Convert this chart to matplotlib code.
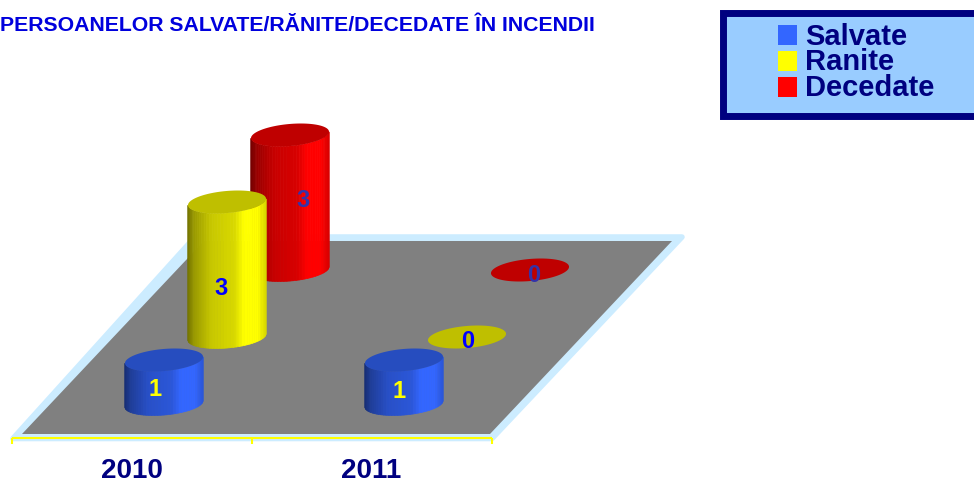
import numpy as np
import matplotlib
matplotlib.use("Agg")
import matplotlib.pyplot as plt
from matplotlib.patches import Polygon, Rectangle

title = "PERSOANELOR SALVATE/RĂNITE/DECEDATE ÎN INCENDII"
categories = ["2010", "2011"]
series_names = ["Salvate", "Ranite", "Decedate"]
salvate = [1, 1]
ranite = [3, 0]
decedate = [3, 0]
series_values = [salvate, ranite, decedate]
series_colors = [(0.2, 0.4, 1.0), (1.0, 1.0, 0.0), (1.0, 0.0, 0.0)]
label_colors = ["#FFFF00", "#0000FF", "#3333AA"]
label_dx = [[-9, -5], [-6, 1], [13, 4]]
label_dy = [[7, 9], [19, 5], [-2, 6]]

NAVY = "#000080"
X0, Y0 = 164.0, 404.0      # base centre of first cylinder
CAT_STEP = 240.0           # pixels per category along the front edge
SER_DX, SER_DY = 63.0, 67.0  # pixels per series going back
UNIT = 45.5                # pixels per value unit
UNIT_OFFSET = 1.5          # pixels lost at the base of a non-zero cylinder
SHEAR = SER_DX / SER_DY
RX, RY = 37.5, 11.5

plt.rcParams["font.family"] = ["Liberation Sans", "DejaVu Sans"]
fig = plt.figure(figsize=(9.74, 4.8), dpi=100)
ax = fig.add_axes([0, 0, 1, 1])
ax.set_xlim(0, 974)
ax.set_ylim(480, 0)
ax.axis("off")


def base_point(cat, ser):
    return X0 + cat * CAT_STEP + ser * SER_DX, Y0 - ser * SER_DY


def ellipse(cx, cy, t):
    return cx + RX * np.cos(t) + SHEAR * RY * np.sin(t), cy - RY * np.sin(t)


def shade(frac):
    return float(np.interp(frac, [0, 0.08, 0.3, 0.6, 0.72, 0.9, 1],
                           [0.45, 0.6, 0.78, 0.85, 1.0, 1.0, 0.85]))


def cylinder(cat, ser, value, color, z):
    cx, cy = base_point(cat, ser)
    height = value * UNIT - UNIT_OFFSET if value > 0 else 0
    top_y = cy - height
    all_t = np.linspace(0, 2 * np.pi, 181)
    cap_col = tuple(c * 0.75 for c in color)
    if value > 0:
        t_right = np.arctan2(SHEAR * RY, RX)
        ts = np.linspace(t_right - np.pi, t_right, 41)
        xs, ys = ellipse(cx, cy, ts)
        half = np.hypot(RX, SHEAR * RY)
        xmin, xmax = cx - half, cx + half
        for i in range(len(ts) - 1):
            frac = ((xs[i] + xs[i + 1]) / 2 - xmin) / (xmax - xmin)
            col = tuple(c * shade(frac) for c in color)
            pts = [(xs[i], ys[i]), (xs[i + 1], ys[i + 1]),
                   (xs[i + 1], ys[i + 1] - height), (xs[i], ys[i] - height)]
            ax.add_patch(Polygon(pts, closed=True, facecolor=col, edgecolor=col,
                                 linewidth=0.5, zorder=z))
    ex, ey = ellipse(cx, top_y, all_t)
    ax.add_patch(Polygon(np.column_stack([ex, ey]), closed=True, facecolor=cap_col,
                         edgecolor="none", zorder=z + 0.5))
    return cx, top_y


# floor
ax.add_patch(Polygon([(13, 438.5), (492, 438.5), (682, 237), (195, 237)], closed=True,
                     facecolor="#CCECFF", edgecolor="#CCECFF", linewidth=4,
                     joinstyle="round", zorder=1))
ax.add_patch(Polygon([(22, 434), (490, 434), (672, 241), (204, 241)], closed=True,
                     facecolor="#808080", edgecolor="none", zorder=2))

# category axis
ax.plot([12, 492], [438, 438], color="#FFFF00", lw=1.5, zorder=3, solid_capstyle="butt")
for k in range(len(categories) + 1):
    tx = 12 + k * CAT_STEP
    ax.plot([tx, tx], [438, 444], color="#FFFF00", lw=1.5, zorder=3, solid_capstyle="butt")
for k, name in enumerate(categories):
    ax.text(132 + k * 239, 478, name, color=NAVY, fontsize=20, fontweight="bold",
            ha="center", va="baseline", zorder=20)

# cylinders, back to front
for ser in range(len(series_names) - 1, -1, -1):
    for cat in range(len(categories)):
        v = series_values[ser][cat]
        cx, top_y = cylinder(cat, ser, v, series_colors[ser], 10 + (2 - ser) * 2)
        base_y = base_point(cat, ser)[1]
        ax.text(cx + label_dx[ser][cat], (top_y + base_y) / 2 + label_dy[ser][cat],
                str(v), color=label_colors[ser], fontsize=17, fontweight="bold",
                ha="center", va="center", zorder=30)

# title
ax.text(0, 25.5, title, color="#0000DD", fontsize=15.35, fontweight="bold",
        ha="left", va="center", zorder=30)

# legend
ax.add_patch(Rectangle((723, 13), 270, 103, facecolor="#99CCFF", edgecolor=NAVY,
                       linewidth=5, zorder=5))
for i, (name, col) in enumerate(zip(series_names, series_colors)):
    ax.add_patch(Rectangle((778, 25 + i * 26), 19, 20, facecolor=col, edgecolor="none", zorder=6))
    ax.text(805, 45 + i * 25.5, name, color=NAVY, fontsize=21, fontweight="bold",
            ha="left", va="baseline", zorder=6)

fig.savefig("out.png", dpi=100, facecolor="white")
